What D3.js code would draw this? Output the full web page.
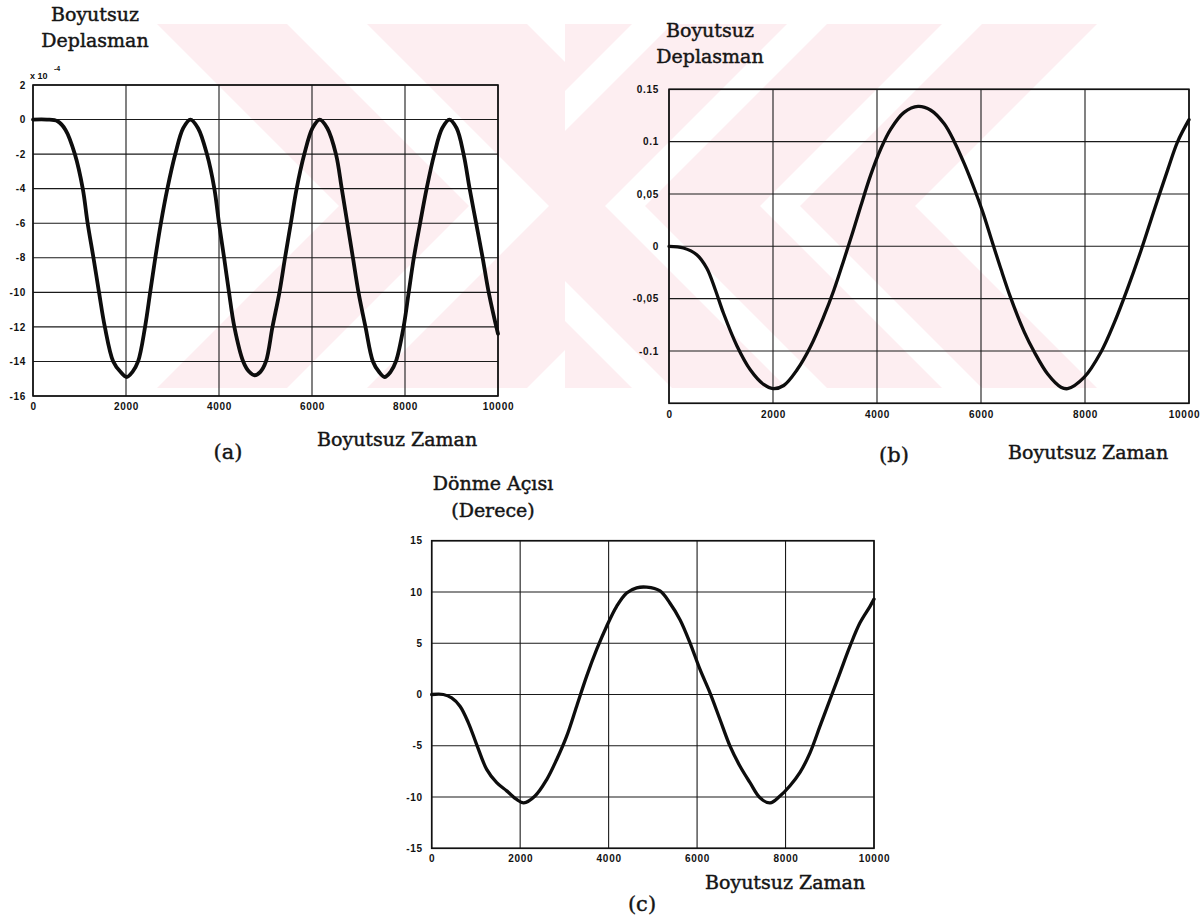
<!DOCTYPE html>
<html>
<head>
<meta charset="utf-8">
<script src="https://cdn.jsdelivr.net/npm/d3@7/dist/d3.min.js"></script>
<style>
  html, body { margin: 0; padding: 0; background: #ffffff; }
  svg { display: block; }
  .tick text { font-family: "Liberation Sans", Arial, sans-serif; font-weight: bold; font-size: 10px; letter-spacing: 0.7px; fill: #111; }
  .ttl { font-family: "DejaVu Serif", serif; font-size: 19px; fill: #151515; stroke: #151515; stroke-width: 0.45px; }
  .plab { font-family: "DejaVu Serif", serif; font-size: 21px; fill: #151515; stroke: #151515; stroke-width: 0.4px; }
</style>
</head>
<body>
<div id="chart"></div>
<script>
// ---------------- DATA ----------------
// shared x axis
const xTickValues = [0, 2000, 4000, 6000, 8000, 10000];
const xTickLabels = ["0", "2000", "4000", "6000", "8000", "10000"];

// (a) Boyutsuz Deplasman (x 10^-4)
const timeA = [0, 300, 530, 700, 900, 1070, 1175, 1300, 1420, 1545, 1725, 1880, 2013, 2140, 2260, 2410, 2520, 2630, 2750, 2890, 3060, 3230, 3385, 3550, 3740, 3900, 4000, 4110, 4215, 4330, 4520, 4650, 4765, 4890, 5010, 5150, 5300, 5420, 5545, 5670, 5835, 6010, 6165, 6330, 6515, 6640, 6760, 6880, 7000, 7150, 7310, 7440, 7560, 7690, 7805, 7970, 8080, 8190, 8325, 8465, 8630, 8800, 8955, 9110, 9260, 9390, 9530, 9670, 9800, 10000];
const valueA = [0, 0, -0.1, -0.6, -2, -4, -6, -8, -10, -12, -14, -14.6, -14.9, -14.6, -14, -12, -10, -8, -6, -4, -2, -0.5, 0, -0.5, -2, -4, -6, -8, -10, -12, -14, -14.6, -14.8, -14.6, -14, -12, -10, -8, -6, -4, -2, -0.5, 0, -0.5, -2, -4, -6, -8, -10, -12, -14, -14.6, -14.9, -14.6, -14, -12, -10, -8, -6, -4, -2, -0.5, 0, -0.5, -2, -4, -6, -8, -10, -12.4];
const yTickValuesA = [2, 0, -2, -4, -6, -8, -10, -12, -14, -16];
const yTickLabelsA = ["2", "0", "-2", "-4", "-6", "-8", "-10", "-12", "-14", "-16"];

// (b) Boyutsuz Deplasman
const timeB = [0, 276, 534, 727, 887, 1048, 1305, 1563, 1820, 2000, 2206, 2463, 2720, 2977, 3170, 3363, 3524, 3685, 3878, 4071, 4264, 4521, 4790, 5035, 5293, 5486, 5678, 5871, 6032, 6192, 6385, 6577, 6833, 7025, 7282, 7538, 7666, 7987, 8308, 8564, 8821, 9077, 9333, 9590, 9782, 10000];
const valueB = [0, -0.0016, -0.008, -0.021, -0.041, -0.064, -0.095, -0.118, -0.132, -0.136, -0.133, -0.118, -0.096, -0.067, -0.042, -0.013, 0.012, 0.038, 0.068, 0.093, 0.112, 0.128, 0.1337, 0.130, 0.117, 0.100, 0.079, 0.055, 0.033, 0.008, -0.022, -0.050, -0.082, -0.101, -0.122, -0.1346, -0.136, -0.125, -0.101, -0.073, -0.040, -0.004, 0.035, 0.073, 0.100, 0.121];
const yTickValuesB = [0.15, 0.1, 0.05, 0, -0.05, -0.1, -0.15];
const yTickLabelsB = ["0.15", "0.1", "0,05", "0", "-0,05", "-0.1", ""];

// (c) Dönme Açısı (Derece)
const timeC = [0, 264, 452, 640, 829, 1017, 1243, 1470, 1696, 1922, 2080, 2336, 2600, 2826, 3052, 3278, 3504, 3730, 3956, 4182, 4408, 4634, 4860, 5162, 5388, 5614, 5840, 6066, 6292, 6518, 6745, 6971, 7197, 7423, 7649, 7875, 8101, 8327, 8553, 8779, 9005, 9231, 9457, 9683, 9910, 10000];
const valueC = [0, 0, -0.33, -1.14, -2.76, -4.88, -7.3, -8.6, -9.4, -10.24, -10.57, -9.9, -8.3, -6.34, -4.06, -1.14, 1.79, 4.39, 6.66, 8.6, 9.9, 10.4, 10.47, 10.1, 8.9, 7.3, 5.04, 2.44, 0.16, -2.44, -5.04, -7.0, -8.6, -10.08, -10.57, -9.9, -8.9, -7.6, -5.69, -3.09, -0.49, 2.11, 4.71, 6.99, 8.6, 9.3];
const yTickValuesC = [15, 10, 5, 0, -5, -10, -15];
const yTickLabelsC = ["15", "10", "5", "0", "-5", "-10", "-15"];

// texts
const titleA = ["Boyutsuz", "Deplasman"];
const titleB = ["Boyutsuz", "Deplasman"];
const titleC = ["Dönme Açısı", "(Derece)"];
const xAxisTitle = "Boyutsuz Zaman";
const panelLabels = ["(a)", "(b)", "(c)"];

// ---------------- DRAW ----------------
const W = 1203, H = 918;
const svg = d3.select("#chart").append("svg").attr("width", W).attr("height", H);

// faint watermark (chevron stripes)
const wmColor = "#fdeef1";
const defs = svg.append("defs");
defs.append("clipPath").attr("id", "wmL").append("rect").attr("x", 60).attr("y", 24).attr("width", 505).attr("height", 364);
defs.append("clipPath").attr("id", "wmR").append("rect").attr("x", 565).attr("y", 24).attr("width", 600).attr("height", 364);
const vy = 206, half = 182;
const bandsLeft = [[339, 469], [549, 709]];
const bandsRight = [[335, 450], [490, 605], [645, 760], [800, 915]];
const gL = svg.append("g").attr("clip-path", "url(#wmL)");
bandsLeft.forEach(([a, b]) => {
  gL.append("path").attr("fill", wmColor)
    .attr("d", d3.line()([[a, vy], [a - half, vy - half], [b - half, vy - half], [b, vy], [b - half, vy + half], [a - half, vy + half]]) + "Z");
});
const gR = svg.append("g").attr("clip-path", "url(#wmR)");
bandsRight.forEach(([a, b]) => {
  gR.append("path").attr("fill", wmColor)
    .attr("d", d3.line()([[a, vy], [a + half, vy - half], [b + half, vy - half], [b, vy], [b + half, vy + half], [a + half, vy + half]]) + "Z");
});

function panel(cfg) {
  const x = d3.scaleLinear().domain([0, 10000]).range([cfg.x0, cfg.x1]);
  const y = d3.scaleLinear().domain(cfg.yDomain).range([cfg.yBottom, cfg.yTop]);
  const g = svg.append("g");

  // grid
  g.append("g").selectAll("line").data(cfg.yTicks).join("line")
    .attr("x1", cfg.x0).attr("x2", cfg.x1)
    .attr("y1", d => y(d)).attr("y2", d => y(d))
    .attr("stroke", "#1a1a1a").attr("stroke-width", 1.1);
  g.append("g").selectAll("line").data(xTickValues).join("line")
    .attr("x1", d => x(d)).attr("x2", d => x(d))
    .attr("y1", cfg.yTop).attr("y2", cfg.yBottom)
    .attr("stroke", "#1a1a1a").attr("stroke-width", 1.1);
  // frame
  g.append("rect").attr("x", cfg.x0).attr("y", cfg.yTop)
    .attr("width", cfg.x1 - cfg.x0).attr("height", cfg.yBottom - cfg.yTop)
    .attr("fill", "none").attr("stroke", "#111").attr("stroke-width", 1.6);

  // axes (labels only)
  const ax = g.append("g").attr("transform", `translate(0,${cfg.yBottom})`)
    .call(d3.axisBottom(x).tickValues(xTickValues).tickSize(0).tickPadding(cfg.xPad)
      .tickFormat((d, i) => xTickLabels[i]));
  ax.select(".domain").remove();
  if (cfg.lastDx) ax.selectAll(".tick text").filter((d, i) => i === xTickValues.length - 1).attr("dx", cfg.lastDx);
  const ay = g.append("g").attr("transform", `translate(${cfg.x0},0)`)
    .call(d3.axisLeft(y).tickValues(cfg.yTicks).tickSize(0).tickPadding(cfg.yPad)
      .tickFormat((d, i) => cfg.yLabels[i]));
  ay.select(".domain").remove();

  // curve
  const pts = cfg.t.map((t, i) => [t, cfg.v[i]]);
  g.append("path").datum(pts)
    .attr("fill", "none").attr("stroke", "#0d0d0d").attr("stroke-width", cfg.lw)
    .attr("stroke-linejoin", "round").attr("stroke-linecap", "round")
    .attr("d", d3.line().x(d => x(d[0])).y(d => y(d[1])).curve(d3.curveCatmullRom.alpha(0.5)));

  // titles
  cfg.title.forEach((s, i) => {
    g.append("text").attr("class", "ttl").attr("text-anchor", "middle")
      .attr("x", cfg.titleX).attr("y", cfg.titleY[i]).text(s);
  });
  g.append("text").attr("class", "ttl").attr("x", cfg.xtX).attr("y", cfg.xtY).text(xAxisTitle);
  g.append("text").attr("class", "plab").attr("text-anchor", "middle")
    .attr("x", cfg.plX).attr("y", cfg.plY).text(cfg.pl);
  return g;
}

const gA = panel({
  x0: 33, x1: 498, yTop: 85, yBottom: 396, yDomain: [-16, 2],
  yTicks: yTickValuesA, yLabels: yTickLabelsA, xPad: 7, yPad: 7,
  t: timeA, v: valueA, lw: 3.8,
  title: titleA, titleX: 95, titleY: [21, 47],
  xtX: 317, xtY: 446, pl: panelLabels[0], plX: 228, plY: 459
});
// exponent label
gA.append("text").attr("x", 30).attr("y", 79)
  .style("font-family", "Liberation Sans, Arial, sans-serif").style("font-weight", "bold").style("font-size", "9px")
  .style("fill", "#111").text("x 10");
gA.append("text").attr("x", 54).attr("y", 71)
  .style("font-family", "Liberation Sans, Arial, sans-serif").style("font-weight", "bold").style("font-size", "7px")
  .style("fill", "#111").text("-4");

panel({
  x0: 669, x1: 1189, yTop: 89.3, yBottom: 403.3, yDomain: [-0.15, 0.15],
  yTicks: yTickValuesB, yLabels: yTickLabelsB, xPad: 8, yPad: 10,
  t: timeB, v: valueB, lw: 3.3, lastDx: -5,
  title: titleB, titleX: 710, titleY: [37, 63],
  xtX: 1008, xtY: 459, pl: panelLabels[1], plX: 894, plY: 462
});

panel({
  x0: 431.7, x1: 874, yTop: 540.7, yBottom: 848.3, yDomain: [-15, 15],
  yTicks: yTickValuesC, yLabels: yTickLabelsC, xPad: 7, yPad: 9,
  t: timeC, v: valueC, lw: 3.3,
  title: titleC, titleX: 493, titleY: [490, 517],
  xtX: 705, xtY: 889, pl: panelLabels[2], plX: 642, plY: 911
});
</script>
</body>
</html>
